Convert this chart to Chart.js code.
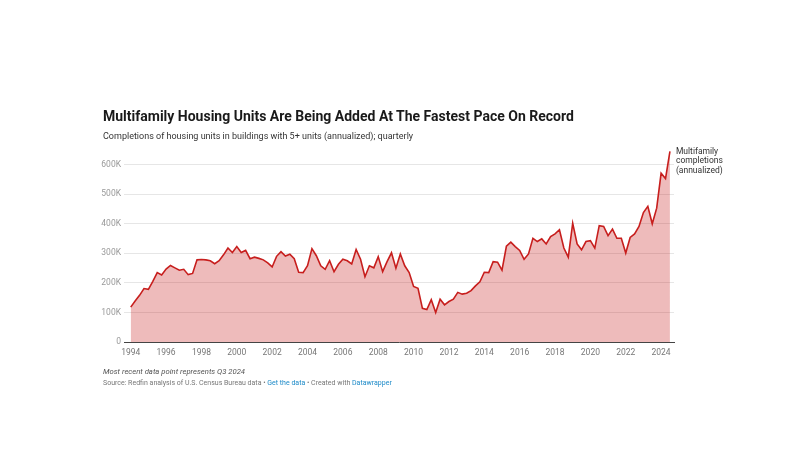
<!DOCTYPE html>
<html>
<head>
<meta charset="utf-8">
<script src="https://cdn.jsdelivr.net/npm/chart.js@4.4.1/dist/chart.umd.min.js"></script>
<style>
  html, body { margin:0; padding:0; background:#fff; }
  body { width:800px; height:465px; position:relative; overflow:hidden; font-family: Roboto, "Noto Sans", sans-serif; }
  #wrap { position:absolute; left:0; top:0; width:800px; height:465px; }
  .t { position:absolute; white-space:nowrap; }
  #title { left:103px; top:107.5px; font-size:14px; font-weight:700; color:#1a1a1a; }
  #sub { left:103px; top:130.5px; font-size:9px; color:#333; }
  #note { left:103px; top:367px; font-size:7.7px; font-style:italic; color:#555; }
  #src { left:103px; top:379px; font-size:7px; color:#777; }
  #src a { color:#1d8ac8; text-decoration:none; }
</style>
</head>
<body>
<div id="wrap"><canvas id="c" width="800" height="465"></canvas></div>
<div class="t" id="title">Multifamily Housing Units Are Being Added At The Fastest Pace On Record</div>
<div class="t" id="sub">Completions of housing units in buildings with 5+ units (annualized); quarterly</div>
<div class="t" id="note">Most recent data point represents Q3 2024</div>
<div class="t" id="src">Source: Redfin analysis of U.S. Census Bureau data • <a>Get the data</a> • Created with <a>Datawrapper</a></div>
<script>
// Quarterly series, 1994 Q1 .. 2024 Q3, thousands of units (annualized)
const startYear = 1994;
const completions = [
  118, 139, 158, 181, 178, 205, 235, 227, 247, 259,
  251, 243, 246, 228, 232, 278, 279, 278, 275, 265,
  275, 295, 318, 303, 323, 303, 310, 282, 287, 283,
  278, 268, 254, 290, 306, 291, 297, 282, 236, 235,
  258, 316, 292, 258, 246, 275, 238, 263, 280, 275,
  264, 313, 280, 221, 258, 251, 289, 238, 272, 302,
  250, 298, 258, 235, 188, 182, 114, 110, 143, 100,
  145, 126, 137, 145, 168, 162, 165, 174, 190, 204,
  236, 235, 272, 270, 243, 324, 338, 323, 310, 280,
  298, 351, 340, 349, 332, 357, 366, 380, 318, 287,
  402, 332, 312, 340, 343, 318, 394, 391, 360, 382,
  351, 351, 301, 354, 366, 391, 438, 459, 400, 453,
  571, 553, 645
];
const xTickYears = [1994,1996,1998,2000,2002,2004,2006,2008,2010,2012,2014,2016,2018,2020,2022,2024];
const yTickValues = [0,100000,200000,300000,400000,500000,600000];
const seriesLabel = ['Multifamily', 'completions', '(annualized)'];

const points = completions.map((v, i) => ({ x: startYear + i / 4, y: v * 1000 }));

const labelPlugin = {
  id: 'endLabel',
  afterDatasetsDraw(chart) {
    const meta = chart.getDatasetMeta(0);
    const last = meta.data[meta.data.length - 1];
    const ctx = chart.ctx;
    ctx.save();
    ctx.font = '8.5px Roboto';
    ctx.fillStyle = '#333';
    ctx.textBaseline = 'middle';
    seriesLabel.forEach((s, k) => ctx.fillText(s, last.x + 6, last.y + k * 9.5));
    ctx.restore();
  }
};

new Chart(document.getElementById('c'), {
  type: 'line',
  data: {
    datasets: [{
      data: points,
      borderColor: '#c71e1d',
      borderWidth: 1.6,
      backgroundColor: 'rgba(199,30,29,0.30)',
      fill: 'origin',
      pointRadius: 0,
      tension: 0,
      clip: false
    }]
  },
  options: {
    responsive: false,
    animation: false,
    events: [],
    layout: { padding: { left: 0, right: 126, top: 147, bottom: 0 } },
    plugins: { legend: { display: false }, tooltip: { enabled: false } },
    scales: {
      x: {
        type: 'linear',
        min: 1993.62,
        max: 2024.73,
        afterFit(s) { s.height = 123; },
        afterBuildTicks(s) { s.ticks = xTickYears.map(v => ({ value: v })); },
        grid: { display: false, drawTicks: false },
        border: { display: true, color: '#444', width: 1 },
        ticks: {
          padding: 6,
          maxRotation: 0,
          autoSkip: false,
          color: '#777',
          font: { family: 'Roboto', size: 8.5 },
          callback: v => String(v)
        }
      },
      y: {
        min: 0,
        max: 660000,
        afterFit(s) { s.width = 124; },
        afterBuildTicks(s) { s.ticks = yTickValues.map(v => ({ value: v })); },
        grid: { color: '#e6e6e6', lineWidth: 1, drawTicks: false },
        border: { display: false },
        ticks: {
          padding: 3,
          color: '#999',
          font: { family: 'Roboto', size: 8.5 },
          callback: v => v === 0 ? '0' : (v / 1000) + 'K'
        }
      }
    }
  },
  plugins: [labelPlugin]
});
</script>
</body>
</html>
